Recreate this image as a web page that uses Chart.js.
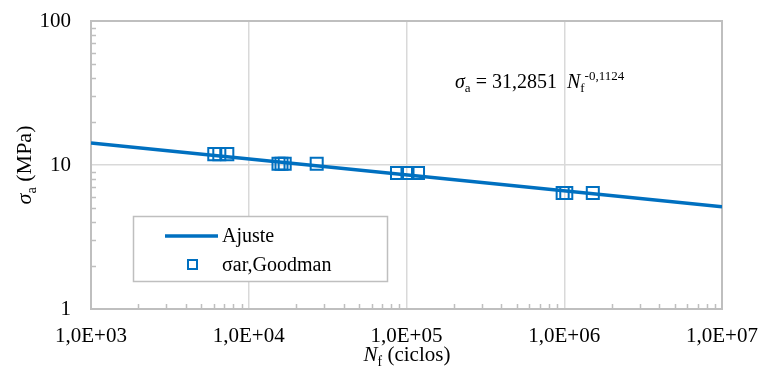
<!DOCTYPE html>
<html>
<head>
<meta charset="utf-8">
<script src="https://cdn.jsdelivr.net/npm/chart.js@4"></script>
<style>
html,body{margin:0;padding:0;background:#fff;}
#wrap{width:760px;height:370px;}
</style>
</head>
<body>
<div id="wrap"><canvas id="c" width="760" height="370"></canvas></div>
<script>
// ---- data ----
const ajusteN = [1000, 10000000];
const ajusteS = [14.2, 5.13];
const goodmanN = [6046, 6507, 7313, 15440, 16130, 16900, 26960, 87060, 101460, 118300, 977000, 1030000, 1517000];
const goodmanS = [11.9, 11.9, 11.9, 10.2, 10.2, 10.2, 10.2, 8.8, 8.8, 8.8, 6.4, 6.4, 6.4];
const xTickValues = [1e3, 1e4, 1e5, 1e6, 1e7];
const xTickLabels = ['1,0E+03', '1,0E+04', '1,0E+05', '1,0E+06', '1,0E+07'];
const yTickValues = [1, 10, 100];
const yTickLabels = ['1', '10', '100'];
const minorMultipliers = [2, 3, 4, 5, 6, 7, 8, 9];
const seriesNames = ['Ajuste', 'σar,Goodman'];

const FONT = "'Liberation Serif', 'Times New Roman', serif";
const BLUE = '#0070C0';
const AXIS = '#bfbfbf';
const GRID = '#d9d9d9';

function drawRich(ctx, segs, x, y, size, align) {
  const parts = segs.map(s => {
    const fs = (s.sub || s.sup) ? size * 0.65 : size;
    const f = (s.italic ? 'italic ' : '') + fs + 'px ' + FONT;
    ctx.font = f;
    return {t: s.t, f: f, w: ctx.measureText(s.t).width, dy: s.sub ? size * 0.22 : (s.sup ? -size * 0.38 : 0)};
  });
  const total = parts.reduce((a, p) => a + p.w, 0);
  let cx = align === 'center' ? x - total / 2 : x;
  ctx.textAlign = 'left';
  ctx.textBaseline = 'alphabetic';
  ctx.fillStyle = '#000';
  parts.forEach(p => { ctx.font = p.f; ctx.fillText(p.t, cx, y + p.dy); cx += p.w; });
}

function zeroPad(s) { s.paddingLeft = 0; s.paddingRight = 0; s.paddingTop = 0; s.paddingBottom = 0; }

const decorPlugin = {
  id: 'decor',
  beforeDatasetsDraw(chart) {
    const {ctx, chartArea: a, scales: {x, y}} = chart;
    ctx.save();
    ctx.strokeStyle = AXIS;
    ctx.lineWidth = 2;
    ctx.strokeRect(a.left, a.top, a.right - a.left, a.bottom - a.top);
    ctx.lineWidth = 1.5;
    ctx.beginPath();
    for (let i = 0; i < xTickValues.length - 1; i++) {
      minorMultipliers.forEach(m => {
        const px = Math.round(x.getPixelForValue(xTickValues[i] * m)) + 0.5;
        ctx.moveTo(px, a.bottom); ctx.lineTo(px, a.bottom - 5);
      });
    }
    for (let i = 0; i < yTickValues.length - 1; i++) {
      minorMultipliers.forEach(m => {
        const py = Math.round(y.getPixelForValue(yTickValues[i] * m)) + 0.5;
        ctx.moveTo(a.left, py); ctx.lineTo(a.left + 5, py);
      });
    }
    ctx.stroke();
    ctx.restore();
  },
  afterDraw(chart) {
    const {ctx} = chart;
    ctx.save();
    // axis titles
    ctx.save();
    ctx.translate(31, 165);
    ctx.rotate(-Math.PI / 2);
    drawRich(ctx, [{t: 'σ', italic: true}, {t: 'a', sub: true}, {t: ' (MPa)'}], 0, 0, 22, 'center');
    ctx.restore();
    drawRich(ctx, [{t: 'N', italic: true}, {t: 'f', sub: true}, {t: ' (ciclos)'}], 407, 361, 21, 'center');
    // equation
    drawRich(ctx, [{t: 'σ', italic: true}, {t: 'a', sub: true}, {t: ' = 31,2851  '}, {t: 'N', italic: true}, {t: 'f', sub: true}, {t: '-0,1124', sup: true}], 455, 88, 20, 'left');
    // legend
    ctx.fillStyle = '#fff';
    ctx.fillRect(133, 216, 255, 66);
    ctx.strokeStyle = AXIS;
    ctx.lineWidth = 1.5;
    ctx.strokeRect(133.5, 216.5, 254, 65);
    ctx.strokeStyle = BLUE;
    ctx.lineWidth = 3.5;
    ctx.beginPath(); ctx.moveTo(165, 236); ctx.lineTo(218, 236); ctx.stroke();
    ctx.lineWidth = 2;
    ctx.strokeRect(188, 260, 9, 9);
    ctx.fillStyle = '#000';
    ctx.font = '20px ' + FONT;
    ctx.textAlign = 'left';
    ctx.textBaseline = 'middle';
    ctx.fillText(seriesNames[0], 222, 237);
    ctx.fillText(seriesNames[1], 222, 266);
    ctx.restore();
  }
};

new Chart(document.getElementById('c'), {
  type: 'scatter',
  data: {
    datasets: [
      {
        label: seriesNames[0],
        data: ajusteN.map((n, i) => ({x: n, y: ajusteS[i]})),
        showLine: true,
        borderColor: BLUE,
        borderWidth: 3.5,
        pointRadius: 0,
        order: 2
      },
      {
        label: seriesNames[1],
        data: goodmanN.map((n, i) => ({x: n, y: goodmanS[i]})),
        showLine: false,
        pointStyle: 'rect',
        pointRadius: 8.5,
        pointBorderWidth: 2,
        pointBorderColor: BLUE,
        pointBackgroundColor: 'rgba(0,0,0,0)',
        order: 1
      }
    ]
  },
  options: {
    responsive: false,
    animation: false,
    devicePixelRatio: 1,
    layout: {padding: {top: 21, right: 38, left: 0, bottom: 0}},
    plugins: {legend: {display: false}, tooltip: {enabled: false}},
    scales: {
      x: {
        type: 'logarithmic',
        min: 1e3, max: 1e7,
        afterBuildTicks: s => { s.ticks = xTickValues.map(v => ({value: v})); },
        afterFit: s => { s.height = 61; zeroPad(s); },
        grid: {color: GRID, lineWidth: 1.5, drawTicks: false},
        border: {color: AXIS, width: 2},
        ticks: {
          autoSkip: false, maxRotation: 0, padding: 15, color: '#000',
          font: {family: FONT, size: 21},
          callback: (v) => xTickLabels[xTickValues.indexOf(v)] || ''
        }
      },
      y: {
        type: 'logarithmic',
        min: 1, max: 100,
        afterBuildTicks: s => { s.ticks = yTickValues.map(v => ({value: v})); },
        afterFit: s => { s.width = 91; zeroPad(s); },
        grid: {color: GRID, lineWidth: 1.5, drawTicks: false},
        border: {color: AXIS, width: 2},
        ticks: {
          autoSkip: false, padding: 20, color: '#000',
          font: {family: FONT, size: 21},
          callback: (v) => yTickLabels[yTickValues.indexOf(v)] || ''
        }
      }
    }
  },
  plugins: [decorPlugin]
});
</script>
</body>
</html>
